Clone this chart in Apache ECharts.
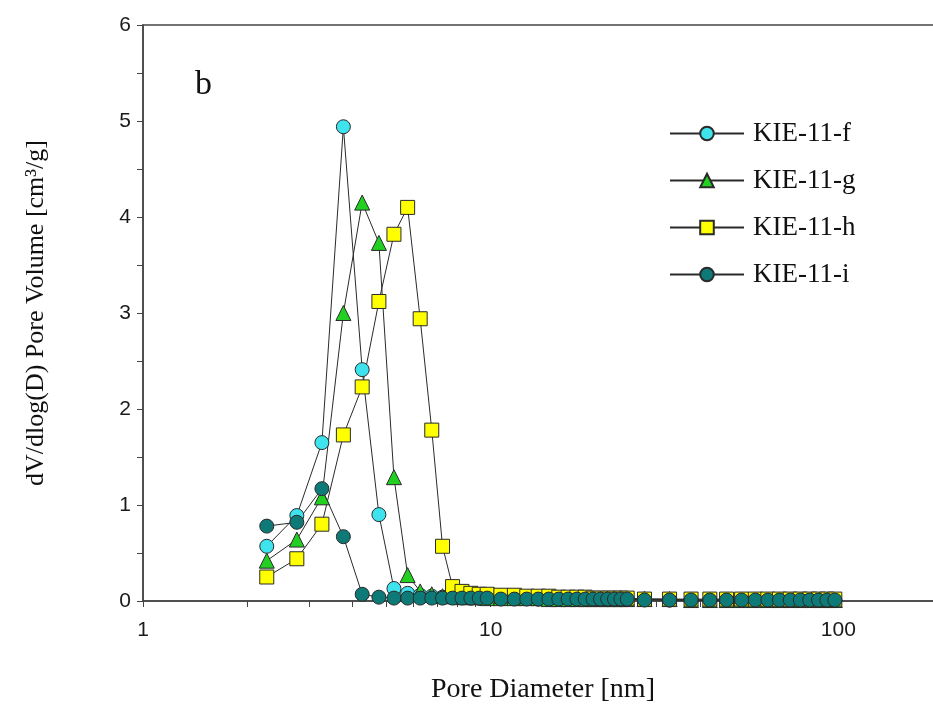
<!DOCTYPE html>
<html>
<head>
<meta charset="utf-8">
<script src="https://cdn.jsdelivr.net/npm/echarts@6/dist/echarts.min.js"></script>
<style>
  html, body { margin: 0; padding: 0; background: #fff; overflow: hidden; }
  #chart { width: 946px; height: 712px; }
</style>
</head>
<body>
<div id="chart"></div>
<script>
// pore diameters [nm]
var diameters = [2.27, 2.77, 3.27, 3.77, 4.27, 4.77, 5.27, 5.77, 6.27, 6.77, 7.27, 7.77, 8.27, 8.77, 9.27, 9.77,
    10.7, 11.7, 12.7, 13.7, 14.7, 15.7, 16.7, 17.7, 18.7, 19.7, 20.7, 21.7, 22.7, 23.7, 24.7,
    27.7, 32.7, 37.7, 42.7, 47.7, 52.7, 57.7, 62.7, 67.7, 72.7, 77.7, 82.7, 87.7, 92.7, 97.7];

var kieF = [0.57, 0.89, 1.65, 4.94, 2.41, 0.90, 0.13, 0.08, 0.06, 0.05, 0.04, 0.04, 0.04, 0.03, 0.03, 0.03,
    0.03, 0.03, 0.03, 0.02, 0.02, 0.02, 0.02, 0.02, 0.02, 0.02, 0.02, 0.02, 0.02, 0.02, 0.02,
    0.02, 0.01, 0.01, 0.01, 0.01, 0.01, 0.01, 0.01, 0.01, 0.01, 0.01, 0.01, 0.01, 0.01, 0.01];
var kieG = [0.42, 0.64, 1.08, 3.00, 4.15, 3.73, 1.29, 0.27, 0.10, 0.07, 0.05, 0.05, 0.04, 0.04, 0.04, 0.03,
    0.03, 0.03, 0.03, 0.03, 0.02, 0.02, 0.02, 0.02, 0.02, 0.02, 0.02, 0.02, 0.02, 0.02, 0.02,
    0.02, 0.02, 0.01, 0.01, 0.01, 0.01, 0.01, 0.01, 0.01, 0.01, 0.01, 0.01, 0.01, 0.01, 0.01];
var kieH = [0.25, 0.44, 0.80, 1.73, 2.23, 3.12, 3.82, 4.10, 2.94, 1.78, 0.57, 0.15, 0.10, 0.08, 0.07, 0.07,
    0.06, 0.06, 0.05, 0.05, 0.05, 0.04, 0.04, 0.04, 0.04, 0.03, 0.03, 0.03, 0.03, 0.03, 0.03,
    0.02, 0.02, 0.02, 0.02, 0.02, 0.02, 0.02, 0.02, 0.02, 0.02, 0.02, 0.02, 0.02, 0.02, 0.02];
var kieI = [0.78, 0.82, 1.17, 0.67, 0.07, 0.04, 0.03, 0.03, 0.03, 0.03, 0.03, 0.03, 0.03, 0.03, 0.03, 0.03,
    0.02, 0.02, 0.02, 0.02, 0.02, 0.02, 0.02, 0.02, 0.02, 0.02, 0.02, 0.02, 0.02, 0.02, 0.02,
    0.01, 0.01, 0.01, 0.01, 0.01, 0.01, 0.01, 0.01, 0.01, 0.01, 0.01, 0.01, 0.01, 0.01, 0.01];

var seriesNames = ['KIE-11-f', 'KIE-11-g', 'KIE-11-h', 'KIE-11-i'];
var xTickValues = [1, 2, 3, 4, 5, 6, 7, 8, 9, 10, 20, 30, 40, 50, 60, 70, 80, 90, 100, 200];
var xLabelValues = [1, 10, 100];

function pairs(ys) {
    var out = [];
    for (var i = 0; i < diameters.length; i++) {
        out.push([diameters[i], ys[i]]);
    }
    return out;
}

function makeSeries(name, ys, symbol, size, color) {
    return {
        name: name,
        type: 'line',
        data: pairs(ys),
        symbol: symbol,
        symbolSize: size,
        showAllSymbol: true,
        lineStyle: { color: '#2a2a2a', width: 1 },
        itemStyle: { color: color, borderColor: '#2a2a2a', borderWidth: 1 },
        emphasis: { disabled: true }
    };
}

var serif = '"Liberation Serif", "DejaVu Serif", serif';
var sans = '"Liberation Sans", Arial, sans-serif';

// the plot runs past the right edge of the window, as in the original figure
var myChart = echarts.init(document.getElementById('chart'));
var option = {
    backgroundColor: '#fff',
    animation: false,
    grid: {
        left: 143, top: 25, right: 3, bottom: 111,
        show: true, borderColor: '#444', borderWidth: 1.5
    },
    legend: {
        orient: 'vertical',
        left: 664, top: 115,
        itemWidth: 74, itemHeight: 17,
        itemGap: 20,
        textStyle: { fontFamily: serif, fontSize: 27, color: '#111', padding: [0, 0, 0, 4] },
        data: seriesNames
    },
    xAxis: {
        type: 'log',
        logBase: 10,
        min: 1, max: 200,
        name: 'Pore Diameter [nm]',
        nameLocation: 'middle',
        nameGap: 75,
        nameTextStyle: { fontFamily: serif, fontSize: 28, color: '#111' },
        axisLine: { lineStyle: { color: '#444', width: 1.5 } },
        axisTick: { show: true, inside: false, length: 6, customValues: xTickValues, lineStyle: { color: '#444' } },
        axisLabel: { customValues: xLabelValues, margin: 19, fontFamily: sans, fontSize: 21, color: '#1a1a1a' },
        splitLine: { show: false }
    },
    yAxis: {
        type: 'value',
        min: 0, max: 6, interval: 1,
        name: 'dV/dlog(D) Pore Volume [cm³/g]',
        nameLocation: 'middle',
        nameGap: 94,
        nameTextStyle: { fontFamily: serif, fontSize: 26, color: '#111' },
        axisLine: { show: true, lineStyle: { color: '#444', width: 1.5 } },
        axisTick: { show: true, inside: false, length: 6, lineStyle: { color: '#444' } },
        minorTick: { show: true, splitNumber: 2, length: 6, lineStyle: { color: '#444' } },
        axisLabel: { margin: 12, fontFamily: sans, fontSize: 21, color: '#1a1a1a' },
        splitLine: { show: false }
    },
    graphic: [{
        type: 'text',
        left: 195, top: 68,
        style: { text: 'b', fontFamily: serif, fontSize: 34, fill: '#111' }
    }],
    series: [
        makeSeries(seriesNames[0], kieF, 'circle', 14, '#3ee3ee'),
        makeSeries(seriesNames[1], kieG, 'triangle', 15, '#22d022'),
        makeSeries(seriesNames[2], kieH, 'rect', 14, '#ffff00'),
        makeSeries(seriesNames[3], kieI, 'circle', 14, '#0e7a78')
    ]
};
myChart.setOption(option);
</script>
</body>
</html>
